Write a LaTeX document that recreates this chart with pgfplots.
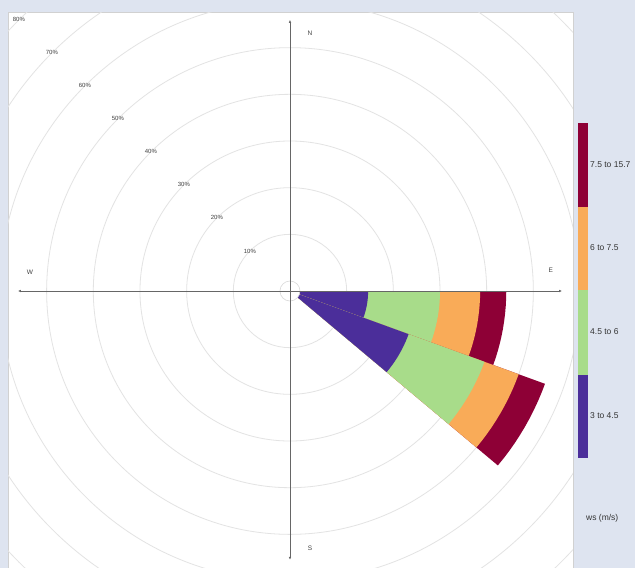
\documentclass[border=0pt]{standalone}
\usepackage{fontspec}
\setmainfont{Liberation Sans}
\usepackage{pgfplots}
\pgfplotsset{compat=1.18}
\usepackage{pgfplotstable}
\usetikzlibrary{arrows.meta}

\definecolor{bg}{HTML}{DEE4F0}
\definecolor{cPur}{HTML}{4B2E9A}
\definecolor{cGrn}{HTML}{A8DC8A}
\definecolor{cOrg}{HTML}{F9AB58}
\definecolor{cRed}{HTML}{8E0036}

% direction 100 deg (math angle 0 to -20): cumulative % per ws bin
% (last row reaches slightly under the next wedge to avoid a seam)
\pgfplotstableread{
a c1 c2 c3 c4
0 14.6 30.0 38.6 44.2
-2 14.6 30.0 38.6 44.2
-4 14.6 30.0 38.6 44.2
-6 14.6 30.0 38.6 44.2
-8 14.6 30.0 38.6 44.2
-10 14.6 30.0 38.6 44.2
-12 14.6 30.0 38.6 44.2
-14 14.6 30.0 38.6 44.2
-16 14.6 30.0 38.6 44.2
-18 14.6 30.0 38.6 44.2
-20.5 14.6 30.0 38.6 44.2
}\dirA
% direction 120 deg (math angle -20 to -40)
\pgfplotstableread{
a c1 c2 c3 c4
-20 24.9 42.2 50.0 56.0
-22 24.9 42.2 50.0 56.0
-24 24.9 42.2 50.0 56.0
-26 24.9 42.2 50.0 56.0
-28 24.9 42.2 50.0 56.0
-30 24.9 42.2 50.0 56.0
-32 24.9 42.2 50.0 56.0
-34 24.9 42.2 50.0 56.0
-36 24.9 42.2 50.0 56.0
-38 24.9 42.2 50.0 56.0
-40 24.9 42.2 50.0 56.0
}\dirB

\def\off{2.143}

\begin{document}
\begin{tikzpicture}
\fill[bg] (0,0) rectangle (635pt,568pt);
\begin{axis}[
  at={(8pt,0pt)}, anchor=south west,
  x=4.667pt, y=4.667pt,
  xmin=-60.42, xmax=60.64, ymin=-59.35, ymax=59.78,
  enlargelimits=false,
  xtick=\empty, ytick=\empty,
  axis line style={draw=black!18},
  axis background/.style={fill=white},
]
\pgfplotsinvokeforeach{10,20,30,40,50,60,70,80}{
  \draw[black!11, line width=0.8pt] (axis cs:0,0) circle[radius=#1+\off];
}
\pgfplotsinvokeforeach{10,20,30,40,50,60,70,80}{
  \node[font=\fontsize{6}{7}\selectfont, text=black!75] at (axis cs:{-0.7071*(#1+\off)},{0.7071*(#1+\off)}) {#1\%};
}
% direction 100
\addplot[draw=none, fill=cRed, data cs=polar] table[x=a, y expr=\thisrow{c4}+\off] {\dirA} -- (axis cs:0,0) -- cycle;
\addplot[draw=none, fill=cOrg, data cs=polar] table[x=a, y expr=\thisrow{c3}+\off] {\dirA} -- (axis cs:0,0) -- cycle;
\addplot[draw=none, fill=cGrn, data cs=polar] table[x=a, y expr=\thisrow{c2}+\off] {\dirA} -- (axis cs:0,0) -- cycle;
\addplot[draw=none, fill=cPur, data cs=polar] table[x=a, y expr=\thisrow{c1}+\off] {\dirA} -- (axis cs:0,0) -- cycle;
% direction 120
\addplot[draw=none, fill=cRed, data cs=polar] table[x=a, y expr=\thisrow{c4}+\off] {\dirB} -- (axis cs:0,0) -- cycle;
\addplot[draw=none, fill=cOrg, data cs=polar] table[x=a, y expr=\thisrow{c3}+\off] {\dirB} -- (axis cs:0,0) -- cycle;
\addplot[draw=none, fill=cGrn, data cs=polar] table[x=a, y expr=\thisrow{c2}+\off] {\dirB} -- (axis cs:0,0) -- cycle;
\addplot[draw=none, fill=cPur, data cs=polar] table[x=a, y expr=\thisrow{c1}+\off] {\dirB} -- (axis cs:0,0) -- cycle;
% calm circle
\fill[white] (axis cs:0,0) circle[radius=\off];
\draw[black!15, line width=0.6pt] (axis cs:0,0) circle[radius=\off];
% compass axes
\draw[black!60, line width=0.7pt, {Latex[length=3pt,width=2.6pt]}-{Latex[length=3pt,width=2.6pt]}] (axis cs:-58.3,0) -- (axis cs:58.3,0);
\draw[black!60, line width=0.7pt, {Latex[length=3pt,width=2.6pt]}-{Latex[length=3pt,width=2.6pt]}] (axis cs:0,-57.6) -- (axis cs:0,58.1);
\node[font=\fontsize{6.5}{7}\selectfont, text=black!75] at (axis cs:4.29,55.3) {N};
\node[font=\fontsize{6.5}{7}\selectfont, text=black!75] at (axis cs:55.9,4.5) {E};
\node[font=\fontsize{6.5}{7}\selectfont, text=black!75] at (axis cs:4.29,-55.1) {S};
\node[font=\fontsize{6.5}{7}\selectfont, text=black!75] at (axis cs:-55.7,4.1) {W};
\end{axis}
% colour key
\fill[cRed] (578pt,361pt) rectangle (588pt,445pt);
\fill[cOrg] (578pt,278pt) rectangle (588pt,361pt);
\fill[cGrn] (578pt,193pt) rectangle (588pt,278pt);
\fill[cPur] (578pt,110pt) rectangle (588pt,193pt);
\begin{scope}[every node/.style={font=\fontsize{8.5}{10}\selectfont, text=black!80, anchor=west, inner sep=0pt}]
\node at (590pt,403pt) {7.5 to 15.7};
\node at (590pt,320pt) {6 to 7.5};
\node at (590pt,236pt) {4.5 to 6};
\node at (590pt,152pt) {3 to 4.5};
\node at (586pt,50pt) {ws (m/s)};
\end{scope}
\pgfresetboundingbox
\path (0,0) rectangle (635pt,568pt);
\end{tikzpicture}
\end{document}
